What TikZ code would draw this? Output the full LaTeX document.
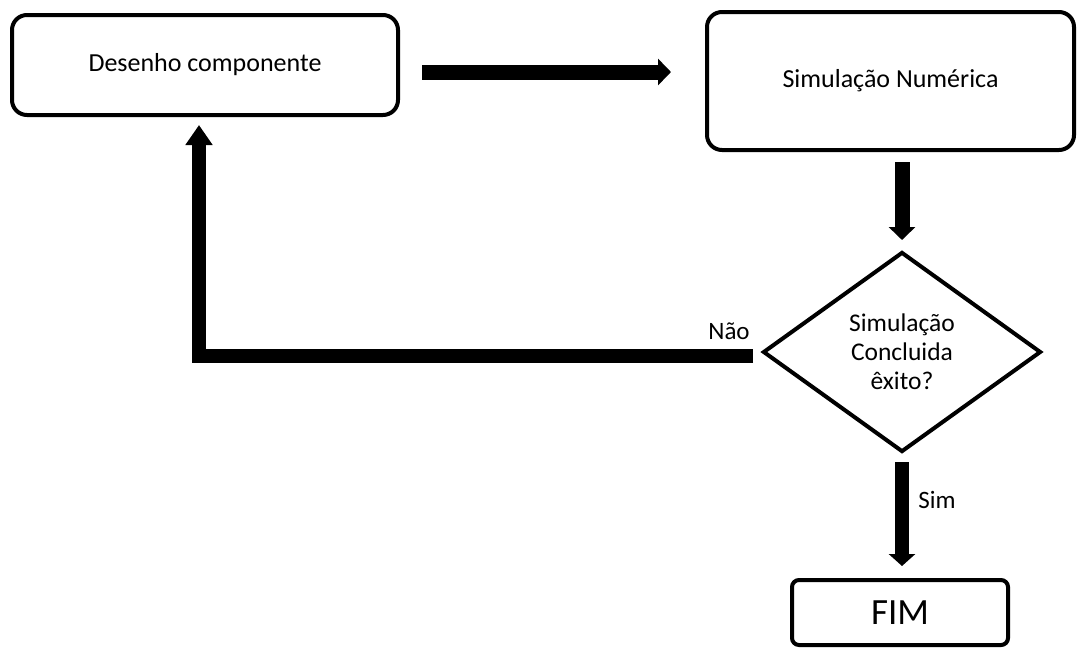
\documentclass[tikz,border=0pt]{standalone}
\usepackage{fontspec}
\setmainfont{Carlito}
\usetikzlibrary{shapes.geometric,arrows.meta}
\begin{document}
\begin{tikzpicture}[x=1pt,y=-1pt,
  box/.style={draw, line width=4pt, rounded corners=15pt, inner sep=0pt, font=\fontsize{26}{30}\selectfont},
  flowarrow/.style={line width=15pt, -{Triangle[width=26pt,length=13pt]}},
  lbl/.style={font=\fontsize{25}{29}\selectfont, inner sep=0pt}]
\useasboundingbox (0,0) rectangle (1078,649);
\node[box, minimum width=386pt, minimum height=100pt] (b1) at (205,65) {Desenho componente};
\node[box, minimum width=367pt, minimum height=138pt] (b2) at (890.5,81) {Simulação Numérica};
\node[draw, diamond, line width=4pt, inner sep=0pt, minimum width=278pt, minimum height=200pt,
      align=center, font=\fontsize{25.5}{29}\selectfont] (d) at (902,352) {Simulação\\Concluida\\êxito?};
\node[box, rounded corners=7pt, minimum width=216pt, minimum height=65pt, font=\fontsize{37}{40}\selectfont] (f) at (900,612.5) {FIM};
\coordinate (ya) at (0,72);
\coordinate (yr) at (0,356);
\coordinate (xr) at (199,0);
\draw[flowarrow, shorten <=22pt, shorten >=34pt] (b1.east |- ya) -- (b2.west |- ya);
\draw[flowarrow, shorten <=10pt, shorten >=10pt] (d.north |- b2.south) -- (d.north);
\draw[line width=14pt, line join=miter, -{Triangle[width=26pt,length=20pt]}, shorten <=8pt, shorten >=8pt]
  (d.west |- yr) -- (xr |- yr) -- (xr |- b1.south);
\draw[line width=14pt, -{Triangle[width=26pt,length=12pt]}, shorten <=8pt, shorten >=12pt] (d.south) -- (f.north -| d.south);
\node[lbl] (nao) at (729,331) {Não};
\node[lbl] (sim) at (937,500) {Sim};
\end{tikzpicture}
\end{document}
